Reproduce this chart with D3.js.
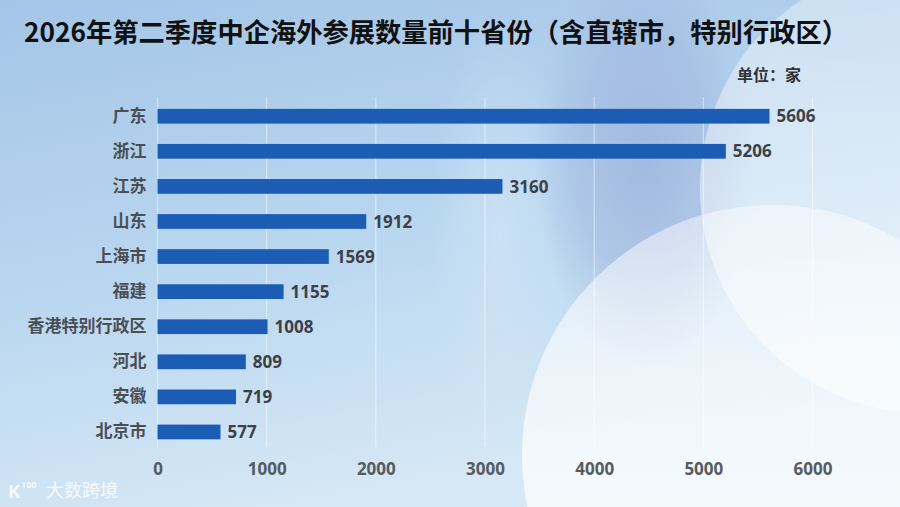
<!DOCTYPE html>
<html>
<head>
<meta charset="utf-8">
<script src="https://cdn.jsdelivr.net/npm/d3@7"></script>
<style>
  html, body { margin: 0; padding: 0; overflow: hidden; }
  svg { display: block; font-family: "Noto Sans CJK SC", "Noto Sans", sans-serif; }
</style>
</head>
<body>
<div id="chart"></div>
<script>
'use strict';

// ------------------------------------
// DATA
// ------------------------------------
const provinces = ["广东", "浙江", "江苏", "山东", "上海市", "福建", "香港特别行政区", "河北", "安徽", "北京市"];
const counts = [5606, 5206, 3160, 1912, 1569, 1155, 1008, 809, 719, 577];
const xTicks = [0, 1000, 2000, 3000, 4000, 5000, 6000];

const titleText = "2026年第二季度中企海外参展数量前十省份（含直辖市，特别行政区）";
const unitText = "单位：家";

// ------------------------------------
// SETUP
// ------------------------------------
const width = 900;
const height = 507;

const svg = d3.select("#chart")
  .append("svg")
  .attr("width", width)
  .attr("height", height);

const defs = svg.append("defs");

// background gradient
const bg = defs.append("linearGradient")
  .attr("id", "bg").attr("x1", 0).attr("y1", 0).attr("x2", 0.35).attr("y2", 1);
bg.append("stop").attr("offset", "0%").attr("stop-color", "#a4c5e7");
bg.append("stop").attr("offset", "55%").attr("stop-color", "#bad7f0");
bg.append("stop").attr("offset", "100%").attr("stop-color", "#d6e8f5");

// darker lavender band in the middle-right
const blob = defs.append("radialGradient").attr("id", "blob");
blob.append("stop").attr("offset", "0%").attr("stop-color", "#9cb0da").attr("stop-opacity", 0.75);
blob.append("stop").attr("offset", "60%").attr("stop-color", "#9cb0da").attr("stop-opacity", 0.45);
blob.append("stop").attr("offset", "100%").attr("stop-color", "#9cb0da").attr("stop-opacity", 0);

// lighter band left of it
const glow = defs.append("radialGradient").attr("id", "glow");
glow.append("stop").attr("offset", "0%").attr("stop-color", "#d4e6f6").attr("stop-opacity", 0.6);
glow.append("stop").attr("offset", "100%").attr("stop-color", "#d4e6f6").attr("stop-opacity", 0);

const c1 = defs.append("linearGradient")
  .attr("id", "c1").attr("x1", 0).attr("y1", 0).attr("x2", 0).attr("y2", 1);
c1.append("stop").attr("offset", "0%").attr("stop-color", "#ffffff").attr("stop-opacity", 0.35);
c1.append("stop").attr("offset", "100%").attr("stop-color", "#ffffff").attr("stop-opacity", 0.55);

const c2 = defs.append("linearGradient")
  .attr("id", "c2").attr("x1", 0).attr("y1", 0).attr("x2", 0).attr("y2", 1);
c2.append("stop").attr("offset", "0%").attr("stop-color", "#ffffff").attr("stop-opacity", 0.45);
c2.append("stop").attr("offset", "60%").attr("stop-color", "#ffffff").attr("stop-opacity", 0.75);
c2.append("stop").attr("offset", "100%").attr("stop-color", "#ffffff").attr("stop-opacity", 0.9);

svg.append("rect").attr("width", width).attr("height", height).attr("fill", "url(#bg)");
svg.append("ellipse")
  .attr("cx", 500).attr("cy", 230).attr("rx", 70).attr("ry", 220)
  .attr("fill", "url(#glow)");
svg.append("ellipse")
  .attr("cx", 645).attr("cy", 160).attr("rx", 110).attr("ry", 210)
  .attr("fill", "url(#blob)");
svg.append("circle").attr("cx", 925).attr("cy", 188).attr("r", 225).attr("fill", "url(#c1)");
svg.append("circle").attr("cx", 772).attr("cy", 455).attr("r", 250).attr("fill", "url(#c2)");

// ------------------------------------
// SCALES
// ------------------------------------
const x = d3.scaleLinear().domain([0, 6000]).range([157.5, 812.5]);
const y = d3.scaleBand()
  .domain(provinces)
  .range([98.7, 449.5])
  .paddingInner(0.58)
  .paddingOuter(0.29);

// gridlines
svg.append("g")
  .selectAll("line")
  .data(xTicks)
  .join("line")
  .attr("x1", d => x(d)).attr("x2", d => x(d))
  .attr("y1", 97).attr("y2", 447)
  .attr("stroke", "#ffffff")
  .attr("stroke-opacity", 0.55)
  .attr("stroke-width", 1);

// x axis (labels only)
const xAxis = d3.axisBottom(x).tickValues(xTicks).tickFormat(d3.format("d")).tickSize(0).tickPadding(0);
const gx = svg.append("g")
  .attr("transform", "translate(0, 463)")
  .call(xAxis);
gx.select(".domain").remove();
gx.selectAll("text")
  .attr("fill", "#565b62")
  .attr("font-size", 17)
  .attr("font-weight", 700)
  .attr("font-family", "'Noto Sans', 'Noto Sans CJK SC', sans-serif");

// y axis (category labels)
const yAxis = d3.axisLeft(y).tickSize(0).tickPadding(11);
const gy = svg.append("g")
  .attr("transform", `translate(${x(0)}, 0)`)
  .call(yAxis);
gy.select(".domain").remove();
gy.selectAll("text")
  .attr("fill", "#4a4f56")
  .attr("font-size", 17)
  .attr("font-weight", 700)
  .attr("font-family", "'Noto Sans CJK SC', sans-serif");

const rows = provinces.map((p, i) => ({ name: p, value: counts[i] }));

// bars
svg.append("g")
  .selectAll("rect")
  .data(rows)
  .join("rect")
  .attr("x", x(0))
  .attr("y", d => y(d.name))
  .attr("width", d => x(d.value) - x(0))
  .attr("height", y.bandwidth())
  .attr("fill", "#1b5cb4");

// value labels
svg.append("g")
  .selectAll("text")
  .data(rows)
  .join("text")
  .attr("x", d => x(d.value) + 7)
  .attr("y", d => y(d.name) + y.bandwidth() / 2)
  .attr("dy", "0.36em")
  .attr("fill", "#3c4148")
  .attr("font-size", 17)
  .attr("font-weight", 700)
  .attr("font-family", "'Noto Sans', sans-serif")
  .text(d => d.value);

// title
svg.append("text")
  .attr("x", 436)
  .attr("y", 42)
  .attr("text-anchor", "middle")
  .attr("fill", "#111111")
  .attr("font-size", 26.5)
  .attr("font-weight", 700)
  .attr("textLength", 824)
  .attr("lengthAdjust", "spacingAndGlyphs")
  .text(titleText);

// unit
svg.append("text")
  .attr("x", 737)
  .attr("y", 81)
  .attr("fill", "#2f3338")
  .attr("font-size", 16)
  .attr("font-weight", 700)
  .text(unitText);

// watermark
const wm = svg.append("g").attr("fill", "#ffffff").attr("fill-opacity", 0.85);
wm.append("text")
  .attr("x", 8).attr("y", 498)
  .attr("font-size", 18).attr("font-weight", 700)
  .attr("font-family", "'Noto Sans', sans-serif")
  .text("K");
wm.append("text")
  .attr("x", 21).attr("y", 488)
  .attr("font-size", 9).attr("font-weight", 700)
  .attr("font-family", "'Noto Sans', sans-serif")
  .text("100");
wm.append("text")
  .attr("x", 46).attr("y", 497)
  .attr("font-size", 18)
  .text("大数跨境");
</script>
</body>
</html>
